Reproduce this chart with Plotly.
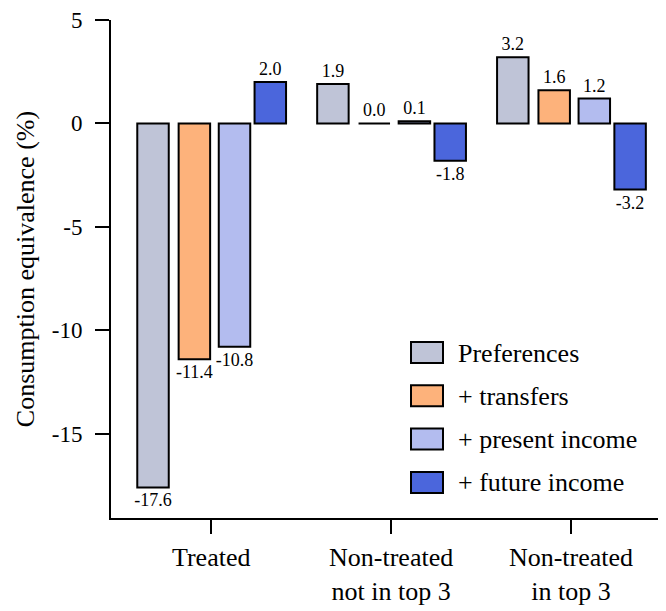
import plotly.graph_objects as go

categories = ["Treated", "Non-treated<br>not in top 3", "Non-treated<br>in top 3"]
series_names = ["Preferences", "+ transfers", "+ present income", "+ future income"]
preferences = [-17.6, 1.9, 3.2]
transfers = [-11.4, 0.0, 1.6]
present_income = [-10.8, 0.1, 1.2]
future_income = [2.0, -1.8, -3.2]
y_ticks = [5, 0, -5, -10, -15]

colors = ["#bfc4d7", "#fdb27b", "#b3bcef", "#4b66dc"]
offsets = [-0.411, -0.181, 0.042, 0.241]
FONT = "Liberation Serif"

# the page body adds an 8px margin, so everything is shifted back by that much
PAD = 8
L, T, W, H = 111 - PAD, 20 - PAD, 555, 498

fig = go.Figure()
for name, vals, color, off in zip(series_names,
                                  [preferences, transfers, present_income, future_income],
                                  colors, offsets):
    fig.add_trace(go.Bar(x=categories, y=vals, name=name,
                         marker=dict(color=color, line=dict(color="black", width=2)),
                         width=0.175, offset=off,
                         text=[f"{v:.1f}" for v in vals],
                         textposition="outside", constraintext="none", cliponaxis=False,
                         textfont=dict(family=FONT, size=18, color="black"),
                         showlegend=False))

# legend drawn by hand so the swatches are as big as in the original
def px(xp):
    return (xp - PAD - L) / W
def py(yp):
    return (T + H - (yp - PAD)) / H
for i, (name, color) in enumerate(zip(series_names, colors)):
    top = 342 + 43.3 * i
    fig.add_shape(type="rect", xref="paper", yref="paper",
                  x0=px(411), x1=px(443), y0=py(top + 21), y1=py(top),
                  fillcolor=color, line=dict(color="black", width=2))
    fig.add_annotation(xref="paper", yref="paper", x=px(456), y=py(top + 11),
                       text=name, showarrow=False, xanchor="left", yanchor="middle",
                       font=dict(family=FONT, size=26, color="black"))

fig.update_layout(
    width=L + W, height=611 - PAD,
    margin=dict(l=L, r=0, t=T, b=611 - PAD - T - H),
    plot_bgcolor="white", paper_bgcolor="white",
    barmode="overlay",
    font=dict(family=FONT, size=26, color="black"),
    xaxis=dict(range=[-0.557, 2.528], showline=True, linecolor="black", linewidth=2,
               ticks="outside", ticklen=14, tickwidth=2, tickcolor="black",
               ticklabelstandoff=1, automargin=False,
               showgrid=False, zeroline=False),
    yaxis=dict(range=[-19.08, 5], showline=True, linecolor="black", linewidth=2,
               ticks="outside", ticklen=14, tickwidth=2, tickcolor="black",
               tickvals=y_ticks, ticktext=[str(v) for v in y_ticks],
               tickfont=dict(size=23), ticklabelstandoff=8, ticklabeloverflow="allow",
               automargin=False, showgrid=False, zeroline=False,
               title=dict(text="Consumption equivalence (%)", font=dict(size=26), standoff=10)),
)

fig.write_html("out.html")
